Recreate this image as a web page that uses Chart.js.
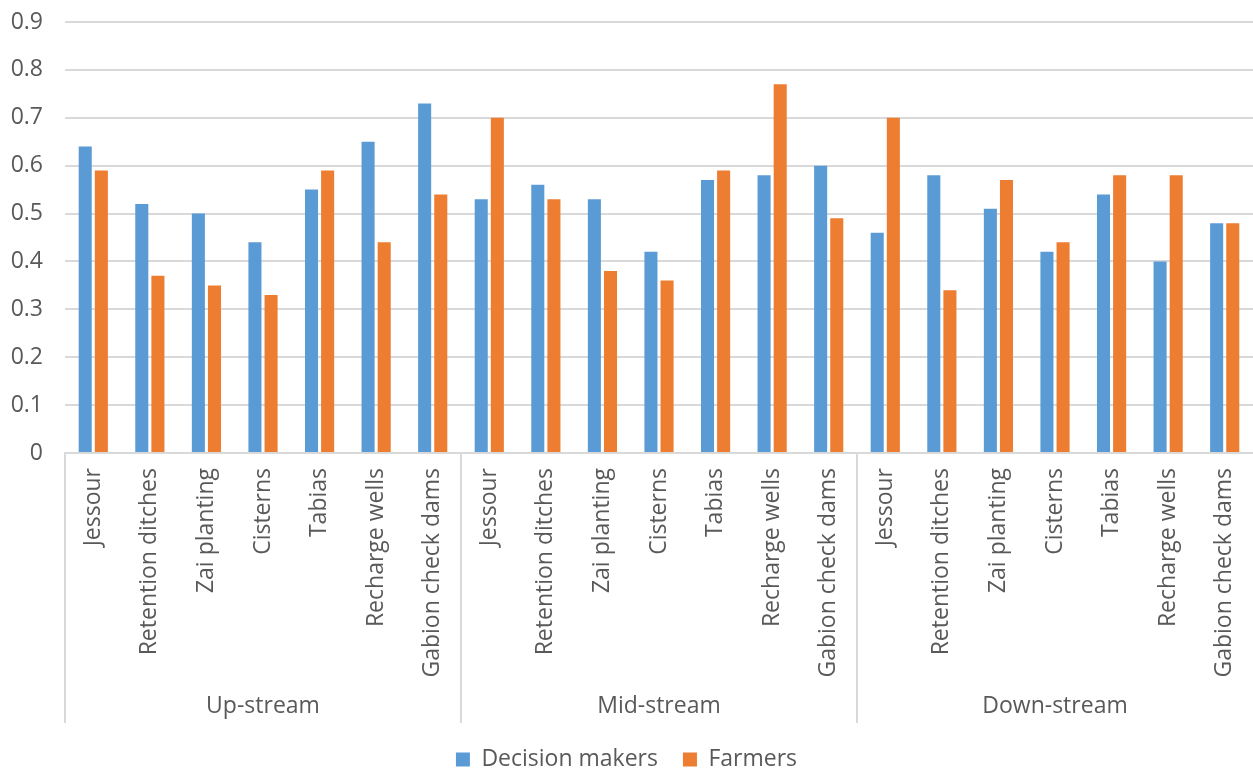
<!DOCTYPE html>
<html>
<head>
<meta charset="utf-8">
<script src="https://cdn.jsdelivr.net/npm/chart.js@4"></script>
<style>
  html, body { margin: 0; padding: 0; background: #fff; }
  #wrap { width: 1253px; height: 772px; }
</style>
</head>
<body>
<div id="wrap"><canvas id="chart" width="1253" height="772"></canvas></div>
<script>
const techniques = ["Jessour", "Retention ditches", "Zai planting", "Cisterns", "Tabias", "Recharge wells", "Gabion check dams"];
const zones = ["Up-stream", "Mid-stream", "Down-stream"];
const categories = zones.flatMap(() => techniques);

const decisionMakers = [
  0.64, 0.52, 0.50, 0.44, 0.55, 0.65, 0.73,
  0.53, 0.56, 0.53, 0.42, 0.57, 0.58, 0.60,
  0.46, 0.58, 0.51, 0.42, 0.54, 0.40, 0.48
];
const farmers = [
  0.59, 0.37, 0.35, 0.33, 0.59, 0.44, 0.54,
  0.70, 0.53, 0.38, 0.36, 0.59, 0.77, 0.49,
  0.70, 0.34, 0.57, 0.44, 0.58, 0.58, 0.48
];

const textColor = "#595959";
const gridColor = "#d9d9d9";
const font = { family: "'Open Sans', sans-serif", size: 23 };

// vertical lines that split the three zones under the axis
const groupLines = {
  id: "groupLines",
  afterDraw(chart) {
    const x = chart.scales.x;
    const g = chart.scales.group;
    const ctx = chart.ctx;
    const per = techniques.length;
    const step = x.getPixelForValue(1) - x.getPixelForValue(0);
    ctx.save();
    ctx.strokeStyle = gridColor;
    ctx.lineWidth = 2;
    for (let i = 0; i < zones.length; i++) {
      const px = Math.round(x.getPixelForValue(i * per) - step / 2);
      ctx.beginPath();
      ctx.moveTo(px, x.top);
      ctx.lineTo(px, g.bottom);
      ctx.stroke();
    }
    ctx.restore();
  }
};

new Chart(document.getElementById("chart"), {
  type: "bar",
  data: {
    labels: categories,
    datasets: [
      {
        label: "Decision makers",
        data: decisionMakers,
        backgroundColor: "#5b9bd5",
        categoryPercentage: 0.57,
        barPercentage: 0.81,
      },
      {
        label: "Farmers",
        data: farmers,
        backgroundColor: "#ed7d31",
        categoryPercentage: 0.57,
        barPercentage: 0.81,
      },
    ],
  },
  options: {
    responsive: false,
    animation: false,
    layout: { padding: { top: 22, right: 0, left: 0, bottom: -9 } },
    plugins: {
      tooltip: { enabled: false },
      legend: {
        position: "bottom",
        labels: {
          color: textColor,
          font: font,
          boxWidth: 14,
          boxHeight: 14,
          padding: 25,
        },
      },
    },
    scales: {
      y: {
        min: 0,
        max: 0.9,
        ticks: {
          stepSize: 0.1,
          color: textColor,
          font: font,
          padding: 22,
          callback: (v) => (Math.round(v * 10) / 10).toString(),
        },
        grid: { color: gridColor, lineWidth: 2, drawTicks: false },
        border: { display: false },
        afterFit(scale) {
          scale.width = 65;
          scale.paddingTop = 14;
          scale.paddingBottom = 14;
        },
      },
      x: {
        ticks: {
          color: textColor,
          font: font,
          minRotation: 90,
          maxRotation: 90,
          autoSkip: false,
          padding: 15,
        },
        grid: { display: false, drawTicks: false },
        border: { display: true, color: gridColor, width: 2 },
        afterFit(scale) {
          scale.height = 230;
          scale.paddingLeft = 0;
          scale.paddingRight = 0;
        },
      },
      group: {
        type: "category",
        position: "bottom",
        labels: zones,
        offset: true,
        ticks: { color: textColor, font: font, padding: 10 },
        grid: { display: false, drawTicks: false },
        border: { display: false },
        afterFit(scale) {
          scale.height = 40;
          scale.paddingLeft = 0;
          scale.paddingRight = 0;
        },
      },
    },
  },
  plugins: [groupLines],
});
</script>
</body>
</html>
